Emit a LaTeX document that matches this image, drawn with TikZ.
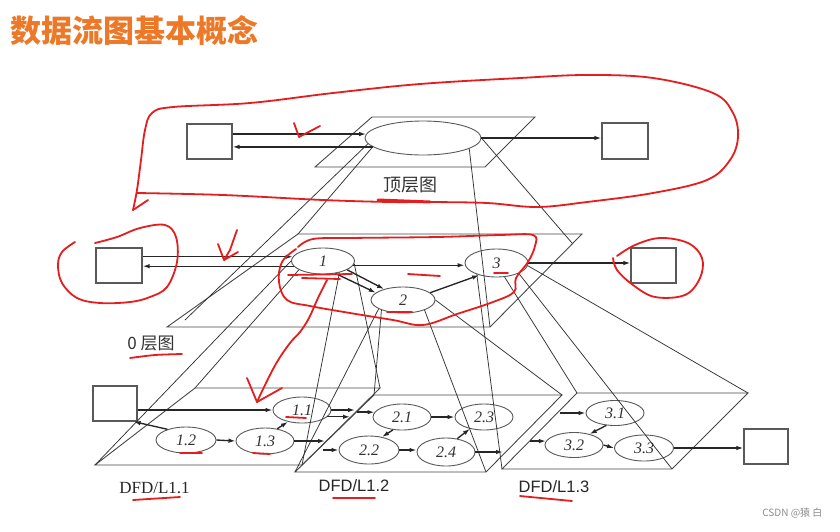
\documentclass[tikz,border=0pt]{standalone}
\usepackage{fontspec}
\setmainfont{Liberation Serif}
\setsansfont{Liberation Sans}
\newfontfamily\cjk{Noto Sans CJK SC}
\usetikzlibrary{arrows.meta,calc,shapes.geometric}
\definecolor{ttl}{RGB}{236,120,40}
\definecolor{annc}{RGB}{228,30,30}
\colorlet{boxc}{black!65}
\colorlet{ellc}{black!65}
\colorlet{planec}{black!72}
\begin{document}
\begin{tikzpicture}[x=1pt,y=-1pt,
 box/.style={draw=boxc,line width=1.2pt,inner sep=0pt,minimum width=45pt,minimum height=35pt},
 proc/.style={ellipse,draw=ellc,line width=0.9pt,inner sep=0pt,minimum width=58pt,minimum height=26pt,font=\itshape\fontsize{16}{16}\selectfont,text=black!80},
 flow/.style={-{Latex[length=7pt,width=4.5pt]},line width=1.35pt,draw=black!85},
 plane/.style={draw=planec,line width=0.9pt},
 proj/.style={draw=black!80,line width=0.75pt},
 ann/.style={draw=annc,line width=1.8pt,line cap=round,line join=round}]
\useasboundingbox (0,0) rectangle (840,531);
\fill[white] (0,0) rectangle (840,531);

% ---------- title
\node[anchor=west,inner sep=0pt,font=\cjk\bfseries\fontsize{31}{31}\selectfont,text=ttl] (title) at (10,31) {数据流图基本概念};

% ---------- planes
\coordinate (T1) at (372,117); \coordinate (T2) at (535,117);
\coordinate (T3) at (485,167); \coordinate (T4) at (315,167);
\coordinate (Z1) at (298,234); \coordinate (Z2) at (582,234);
\coordinate (Z3) at (490,327); \coordinate (Z4) at (167,327);
\coordinate (A1) at (195,388); \coordinate (A2) at (380,388);
\coordinate (A3) at (302,465); \coordinate (A4) at (95,465);
\coordinate (B1) at (374,395); \coordinate (B2) at (562,395);
\coordinate (B3) at (486,472); \coordinate (B4) at (295,472);
\coordinate (C1) at (577,393); \coordinate (C2) at (748,393);
\coordinate (C3) at (672,469); \coordinate (C4) at (502,469);
\draw[plane] (T1)--(T2)--(T3)--(T4)--cycle;
\draw[plane] (Z1)--(Z2)--(Z3)--(Z4)--cycle;
\draw[plane] (A1)--(A2)--(A3)--(A4)--cycle;
\draw[plane] (B1)--(B2)--(B3)--(B4)--cycle;
\draw[plane] (C1)--(C2)--(C3)--(C4)--cycle;

% ---------- top level
\node[box] (tl) at (209.5,141.5) {};
\node[proc,minimum width=116pt,minimum height=34pt] (t0) at (423,138) {};
\node[box,minimum width=46pt,minimum height=36pt] (tr) at (625,141) {};
\node[font=\cjk\fontsize{18}{18}\selectfont,text=black!80] (lt) at (410,185) {顶层图};

% ---------- level 0
\node[box,minimum width=46pt] (zl) at (119,265.5) {};
\node[proc,minimum width=63pt] (e1) at (323,261) {1};
\node[proc,minimum width=64pt] (e2) at (403,300) {2};
\node[proc,minimum width=63pt,minimum height=28pt] (e3) at (496.5,263) {3};
\node[box] (zr) at (653.5,265.5) {};
\node[font=\cjk\fontsize{17}{17}\selectfont,text=black!80] (l0) at (151,343) {0 层图};

% ---------- level 1
\node[box,minimum width=44pt] (ab) at (115,403.5) {};
\node[proc] (e11) at (302,410) {1.1};
\node[proc,minimum width=60pt] (e12) at (186,440) {1.2};
\node[proc] (e13) at (265,441) {1.3};
\node[proc] (e21) at (402,417) {2.1};
\node[proc,minimum width=60pt,minimum height=28pt] (e22) at (369,450) {2.2};
\node[proc] (e23) at (484,417) {2.3};
\node[proc,minimum height=28pt] (e24) at (446,452) {2.4};
\node[proc,minimum height=25pt] (e31) at (615,413) {3.1};
\node[proc,minimum height=25pt] (e32) at (574,445) {3.2};
\node[proc,minimum width=59pt] (e33) at (644,448) {3.3};
\node[box,minimum width=44pt] (cb) at (766,446.5) {};
\node[font=\fontsize{17}{17}\selectfont,text=black!85] (l11) at (154.5,488) {DFD/L1.1};
\node[font=\sffamily\fontsize{16.5}{16.5}\selectfont,text=black!85] (l12) at (354,486) {DFD/L1.2};
\node[font=\sffamily\fontsize{16.5}{16.5}\selectfont,text=black!85] (l13) at (554,487) {DFD/L1.3};

\node[font=\cjk\fontsize{10}{10}\selectfont,text=black!45,anchor=east] (wm) at (826,513) {CSDN @猿 白};

% ---------- free ends
\coordinate (pA) at (185,320); \coordinate (pB) at (572,243);
\coordinate (o11a) at (355,410); \coordinate (o11b) at (350,417);
\coordinate (i21) at (357,412); \coordinate (o13) at (325,441);
\coordinate (i22) at (323,450); \coordinate (o24) at (503,452);
\coordinate (i31) at (560,413); \coordinate (i32) at (530,441);

% ---------- projection lines
\draw[proj] (t0.186) -- (pA);
\draw[proj] (t0.190) -- (Z1);
\draw[proj] (t0.-13) -- (Z3);
\draw[proj] (t0.east) -- (pB);
\draw[proj] (e1.west) -- (A4);
\draw[proj] (e1.200) -- (A1);
\draw[proj] (e1.-35) -- (A3);
\draw[proj] (e1.-5) -- (A2);
\draw[proj] (e2.205) -- (B1);
\draw[proj] (e2.200) -- (B4);
\draw[proj] (e2.-25) -- (B3);
\draw[proj] (e2.east) -- (B2);
\draw[proj] (e3.210) -- (C4);
\draw[proj] (e3.-60) -- (C1);
\draw[proj] (e3.-25) -- (C3);
\draw[proj] (e3.-5) -- (C2);

% ---------- flows top
\draw[flow] (tl.east |- t0.176) -- (t0.176);
\draw[flow] (t0.190) -- (tl.east |- t0.190);
\draw[flow] (t0.east) -- (tr.west |- t0.east);
% ---------- flows level 0
\draw[flow] (zl.east |- e1.172) -- (e1.172);
\draw[flow] (e1.190) -- (zl.east |- e1.190);
\draw[flow] (e1.-20) -- (e2.150);
\draw[flow] (e1.-45) -- (e2.165);
\draw[flow] (e1.352) -- (e1.352 -| e3.west);
\draw[flow] (e2.15) -- (e3.215);
\draw[flow] (e3.east) -- (e3.east -| zr.west);
% ---------- flows level 1
\draw[flow] (ab.east |- e11.west) -- (e11.west);
\draw[flow] (e12.150) -- ([xshift=-4pt]ab.south east);
\draw[flow] (e12.east) -- (e13.west);
\draw[flow] (e13.45) -- (e11.220);
\draw[flow] (e11.east) -- (e11.east -| o11a);
\draw[flow] (e11.-15) -- (e11.-15 -| o11b);
\draw[flow] (i21 |- e21.170) -- (e21.170);
\draw[flow] (e13.east) -- (e13.east -| o13);
\draw[flow] (i22 |- e22.west) -- (e22.west);
\draw[flow] (e21.235) -- (e22.45);
\draw[flow] (e21.east) -- (e23.west);
\draw[flow] (e22.east) -- (e22.east -| e24.west);
\draw[flow] (e24.50) -- (e23.220);
\draw[flow] (e24.east) -- (e24.east -| o24);
\draw[flow] (i31 |- e31.west) -- (e31.west);
\draw[flow] (i32 |- e32.172) -- (e32.172);
\draw[flow] (e31.235) -- (e32.35);
\draw[flow] (e32.east) -- (e33.west);
\draw[flow] (e33.east) -- (e33.east -| cb.west);

% ---------- red hand annotations
\draw[ann] plot[smooth,tension=0.6] coordinates {(137,193) (223,195) (323,200) (390,202) (430,202) (487,203) (537,207) (587,202) (653,193) (707,180) (730,160) (738,137) (733,113) (713,93) (653,78) (587,75) (520,78) (420,84) (333,93) (250,103) (173,107) (152,113) (145,130) (141,160) (137,190) (133,210)};
\draw[ann] (133,210) -- (148,200);
\draw[ann,line width=3pt] (378,200) -- (430,202);
\draw[ann] (294,123) -- (299,137) -- (320,126);
\draw[ann] (237,230) -- (230,250) -- (224,260) -- (238,252);
\draw[ann] (218,244) -- (224,260);
\draw[ann] plot[smooth,tension=0.6] coordinates {(75,242) (62,252) (58,265) (62,283) (77,298) (100,303) (130,302) (150,297) (167,287) (177,262) (176,237) (165,225) (140,228) (117,237) (95,243)};
\draw[ann] plot[smooth,tension=0.6] coordinates {(298,247) (313,239) (350,238) (437,237) (500,235) (533,235) (535,246) (528,262) (516,278) (514,292) (493,302) (457,314) (423,325) (393,320) (350,313) (310,306) (287,300) (279,282) (282,262) (296,249)};
\draw[ann] plot[smooth,tension=0.6] coordinates {(613,258) (617,270) (633,285) (655,297) (685,295) (700,278) (702,258) (688,243) (660,238) (635,245) (617,256)};
\draw[ann] (408,274) -- (440,276);
\draw[ann] (288,275) -- (352,274);
\draw[ann] (302,278) -- (340,279);
\draw[ann] (387,312) -- (412,312);
\draw[ann] (494,273) -- (508,273);
\draw[ann] plot[smooth,tension=0.6] coordinates {(327,280) (318,298) (309,318) (300,332) (290,343) (277,362) (265,385) (257,402)};
\draw[ann] (247,378) -- (257,402) -- (282,388);
\draw[ann] plot[smooth] coordinates {(130,358) (155,355) (182,354)};
\draw[ann] (286,417) -- (306,418);
\draw[ann] (180,453) -- (202,453);
\draw[ann] (253,453) -- (270,454);
\draw[ann] (133,500) -- (180,497);
\draw[ann] (333,498) -- (375,498);
\draw[ann] (520,496) -- (572,501);
\end{tikzpicture}
\end{document}
